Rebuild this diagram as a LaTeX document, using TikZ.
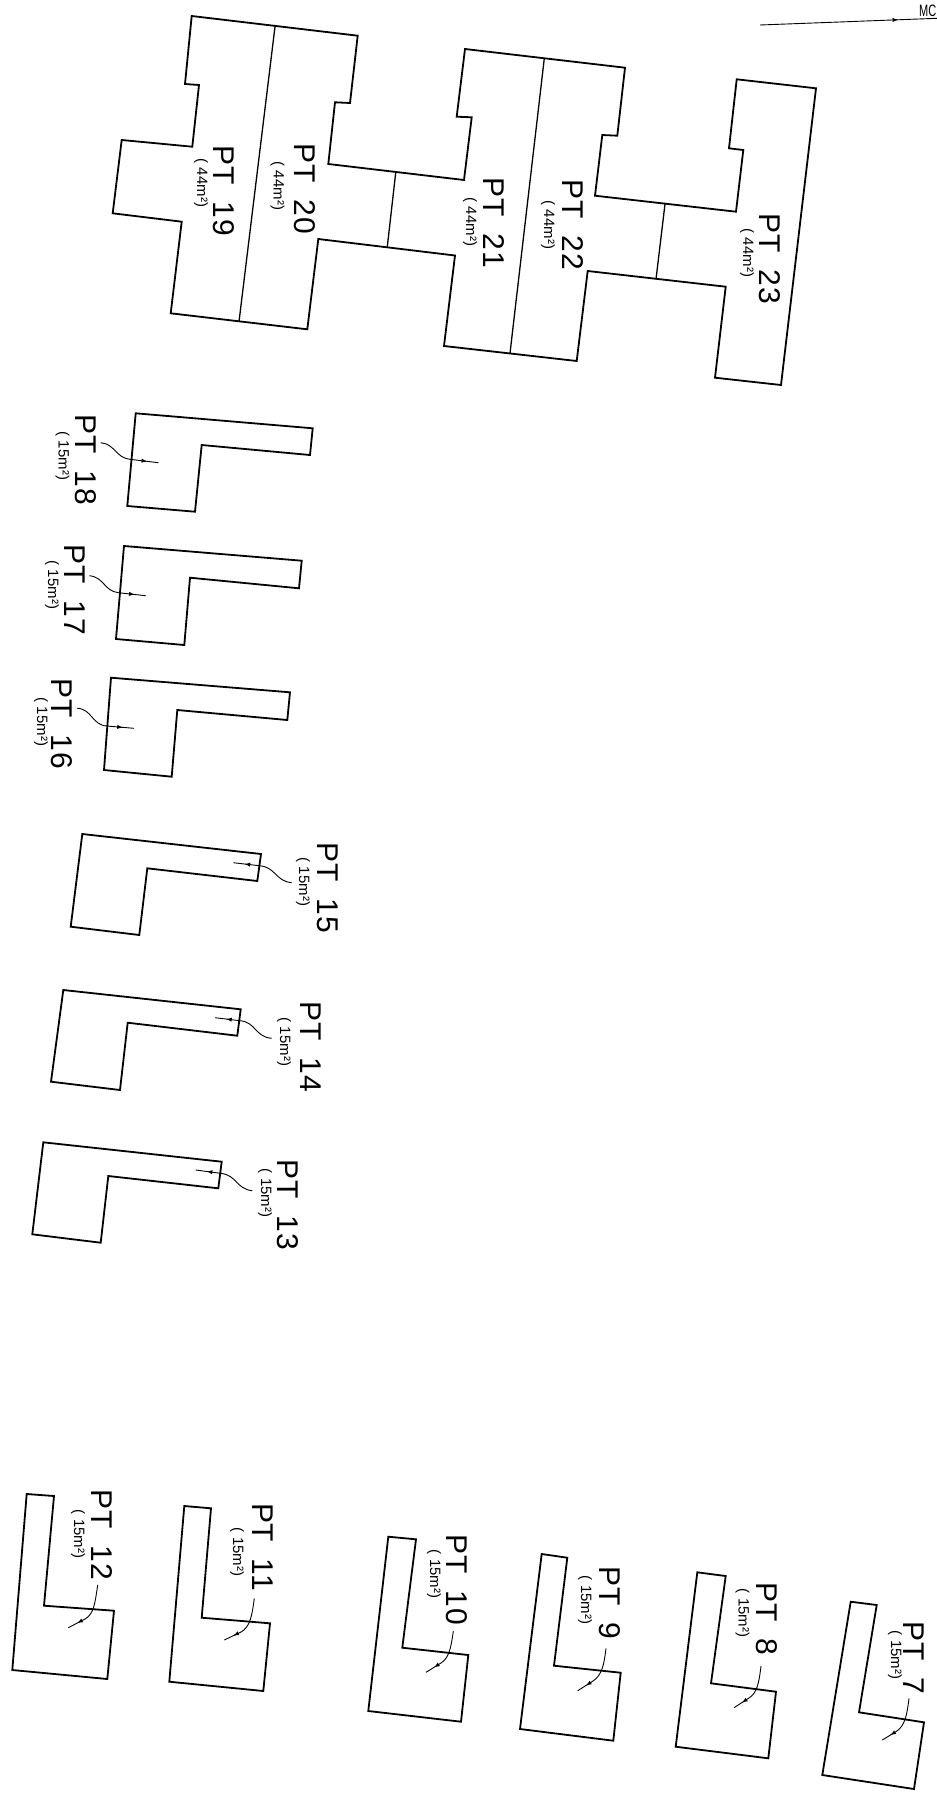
\documentclass[tikz,border=0pt]{standalone}
\usepackage{fontspec}
\setmainfont{Liberation Sans}
\newfontfamily\plotfont[LetterSpace=3,WordSpace=1.8]{Liberation Sans}
\usetikzlibrary{decorations.markings}
\tikzset{
  wall/.style={line width=1.8pt, line join=miter},
  party/.style={line width=1.3pt},
  ptlabel/.style={rotate=-90, inner sep=0pt, font=\plotfont\fontsize{30}{30}\selectfont},
  ptarea/.style={rotate=-90, inner sep=0pt, font=\fontsize{15}{15}\selectfont},
  leader/.style={line width=0.9pt, postaction={decorate}, decoration={markings, mark=at position 0.82 with {\arrow{latex}}}}
}
\begin{document}
\begin{tikzpicture}[x=1pt, y=-1pt]

\useasboundingbox (0, 0) rectangle (937, 1797);
% north mark
\coordinate (northa) at (760, 25);
\coordinate (northb) at (937, 18.3);
\draw[line width=0.9pt, postaction={decorate}, decoration={markings, mark=at position 0.78 with {\arrow{latex}}}] (northa) -- (northb);
\node[inner sep=0pt, anchor=east, yscale=1.5, font=\fontsize{11}{11}\selectfont] (north) at (936.5, 10.5) {MC};

% large block
\draw[wall] (191.7, 16) -- (357.7, 35.7) -- (350, 103) -- (335, 102.3) -- (328.3, 164) -- (464, 180) -- (471.7, 117.3) -- (456.7, 116.7) -- (465, 49) -- (625, 67.7) -- (617.3, 135.7) -- (602.3, 135) -- (595, 195.7) -- (736, 211.7) -- (743.3, 150) -- (729, 148.3) -- (736.7, 79.3) -- (816, 88.3) -- (781, 385) -- (715, 377.7) -- (725.7, 286.7) -- (587.7, 271) -- (576.7, 361) -- (444, 346) -- (455, 255.5) -- (318.3, 239) -- (307.3, 329.3) -- (170.7, 313.3) -- (181.7, 221.7) -- (112.7, 213.3) -- (121.7, 140) -- (192.3, 146.7) -- (199, 85) -- (185, 84) -- cycle;
\draw[party] (275, 26.7) -- (239, 321.7);
\draw[party] (395.7, 172.7) -- (387.3, 246.7);
\draw[party] (544.3, 58.3) -- (510, 353.3);
\draw[party] (665, 204) -- (656, 279.3);
\node[ptlabel] (pt19) at (224, 191) {PT 19};
\node[ptarea] (area19) at (201, 183) {( 44m²)};
\node[ptlabel] (pt20) at (305, 189) {PT 20};
\node[ptarea] (area20) at (277.5, 186) {( 44m²)};
\node[ptlabel] (pt21) at (494, 223) {PT 21};
\node[ptarea] (area21) at (470, 222) {( 44m²)};
\node[ptlabel] (pt22) at (573, 225) {PT 22};
\node[ptarea] (area22) at (548, 225) {( 44m²)};
\node[ptlabel] (pt23) at (770, 259) {PT 23};
\node[ptarea] (area23) at (747, 253) {( 44m²)};

% upper row
\draw[wall] (135.7, 413.3) -- (312.7, 428.3) -- (310, 455) -- (201.7, 445) -- (195, 511.7) -- (127.3, 506) -- cycle;
\node[ptlabel] (pt18) at (86, 460) {PT 18};
\node[ptarea] (area18) at (62.5, 456) {( 15m²)};
\draw[leader] (100.7, 442.7) .. controls (115, 444) and (116, 458) .. (130, 459.3) -- (158.3, 462.7);

\draw[wall] (124, 546) -- (301.7, 560.7) -- (299, 588.3) -- (190, 577.7) -- (184.3, 645) -- (116, 639) -- cycle;
\node[ptlabel] (pt17) at (74.5, 590) {PT 17};
\node[ptarea] (area17) at (52, 585) {( 15m²)};
\draw[leader] (89.3, 575.7) .. controls (104, 577) and (104, 591) .. (118.3, 592.7) -- (145.7, 595.7);

\draw[wall] (111, 677.7) -- (290, 692.3) -- (287.3, 720) -- (177.3, 710) -- (171.7, 776.7) -- (104, 770) -- cycle;
\node[ptlabel] (pt16) at (62, 724) {PT 16};
\node[ptarea] (area16) at (41, 722) {( 15m²)};
\draw[leader] (77.3, 708.3) .. controls (92, 709) and (92, 725) .. (106.7, 726) -- (134, 728.3);

\draw[wall] (82.3, 834) -- (261, 854) -- (257.3, 881) -- (147.3, 868.3) -- (139.3, 935) -- (70.7, 926.7) -- cycle;
\node[ptlabel] (pt15) at (327.5, 888) {PT 15};
\node[ptarea] (area15) at (303, 882) {( 15m²)};
\draw[leader] (291.7, 882.7) .. controls (275, 881) and (276, 867) .. (259.3, 865.7) -- (233.3, 862.7);

\draw[wall] (63.3, 990) -- (240.7, 1009.3) -- (237.3, 1035.7) -- (127.7, 1022.7) -- (120, 1090) -- (51, 1081.7) -- cycle;
\node[ptlabel] (pt14) at (311, 1047) {PT 14};
\node[ptarea] (area14) at (284, 1042) {( 15m²)};
\draw[leader] (271.7, 1038.3) .. controls (255, 1037) and (256, 1022) .. (240, 1020.7) -- (215, 1017.7);

\draw[wall] (43.3, 1142.3) -- (221.7, 1161.7) -- (218.3, 1188.3) -- (108.3, 1176) -- (100.7, 1242.7) -- (32.3, 1234.3) -- cycle;
\node[ptlabel] (pt13) at (288, 1205) {PT 13};
\node[ptarea] (area13) at (265, 1193) {( 15m²)};
\draw[leader] (252.3, 1190.7) .. controls (236, 1189) and (237, 1175) .. (220.7, 1173.3) -- (195.7, 1170);

% lower row
\draw[wall] (26.7, 1494) -- (54, 1496) -- (44, 1605.7) -- (114, 1610.7) -- (107.3, 1679) -- (12.3, 1670) -- cycle;
\node[ptlabel] (pt12) at (102, 1535) {PT 12};
\node[ptarea] (area12) at (78, 1534) {( 15m²)};
\draw[leader] (97.7, 1585) .. controls (95, 1603) and (94, 1614) .. (85, 1619) -- (68.3, 1627.7);

\draw[wall] (184.3, 1506) -- (211, 1508.3) -- (201.7, 1617.7) -- (270, 1623.3) -- (263.3, 1691) -- (169.3, 1681.7) -- cycle;
\node[ptlabel] (pt11) at (262.5, 1547) {PT 11};
\node[ptarea] (area11) at (237, 1552) {( 15m²)};
\draw[leader] (254.3, 1598.3) .. controls (252, 1616) and (250, 1627) .. (241, 1632) -- (224.3, 1640);

\draw[wall] (388.3, 1536.7) -- (416, 1539.3) -- (402.3, 1647.7) -- (468.3, 1655) -- (461, 1721.7) -- (368.3, 1711) -- cycle;
\node[ptlabel] (pt10) at (457, 1580) {PT 10};
\node[ptarea] (area10) at (434, 1574) {( 15m²)};
\draw[leader] (453.3, 1631) .. controls (451, 1648) and (449, 1658) .. (441, 1663) -- (426, 1672.3);

\draw[wall] (541.7, 1554) -- (567.3, 1557.7) -- (554, 1665.7) -- (620.7, 1672.7) -- (613.3, 1740.7) -- (520, 1729) -- cycle;
\node[ptlabel] (pt9) at (609.5, 1603) {PT 9};
\node[ptarea] (area9) at (585, 1600) {( 15m²)};
\draw[leader] (606, 1648.3) .. controls (604, 1665) and (602, 1675) .. (593, 1681) -- (577.7, 1690.7);

\draw[wall] (697.3, 1572.3) -- (725.7, 1576) -- (711, 1683.3) -- (776, 1691.7) -- (768.3, 1758.3) -- (675.7, 1746.7) -- cycle;
\node[ptlabel] (pt8) at (767, 1619) {PT 8};
\node[ptarea] (area8) at (742.5, 1613) {( 15m²)};
\draw[leader] (761, 1666) .. controls (759, 1683) and (757, 1693) .. (749, 1698) -- (734, 1707.7);

\draw[wall] (850.7, 1601.7) -- (876.7, 1605) -- (859, 1712.3) -- (924, 1722.3) -- (914, 1789) -- (822.3, 1775) -- cycle;
\node[ptlabel] (pt7) at (914, 1658) {PT 7};
\node[ptarea] (area7) at (895, 1655) {( 15m²)};
\draw[leader] (909, 1698.3) .. controls (907, 1715) and (905, 1725) .. (897, 1731) -- (882.3, 1740);

\end{tikzpicture}
\end{document}
